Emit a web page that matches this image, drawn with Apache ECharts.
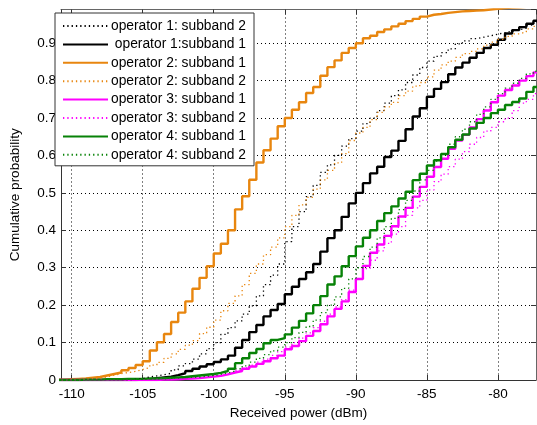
<!DOCTYPE html>
<html><head><meta charset="utf-8">
<script src="https://cdn.jsdelivr.net/npm/echarts@6/dist/echarts.min.js"></script>
<style>html,body{margin:0;padding:0;background:#fff}#c{width:537px;height:425px}</style>
</head><body><div id="c"></div>
<script>
// Step positions (dBm) – each value holds from its x to the next x
const xs = [-111,-110.5,-110,-109.5,-109,-108.5,-108,-107.5,-107,-106.5,-106,-105.5,-105,-104.5,-104,-103.5,-103,-102.5,-102,-101.5,-101,-100.5,-100,-99.5,-99,-98.5,-98,-97.5,-97,-96.5,-96,-95.5,-95,-94.5,-94,-93.5,-93,-92.5,-92,-91.5,-91,-90.5,-90,-89.5,-89,-88.5,-88,-87.5,-87,-86.5,-86,-85.5,-85,-84.5,-84,-83.5,-83,-82.5,-82,-81.5,-81,-80.5,-80,-79.5,-79,-78.5,-78,-77.5,-77,-76.5];

const legendNames = ['operator 1: subband 2',' operator 1:subband 1','operator 2: subband 1','operator 2: subband 2','operator 3: subband 1','operator 3: subband 2','operator 4: subband 1','operator 4: subband 2'];

const op1sb2 = [0,0,0,0,0,0,0,0,0,0,0.002,0.004,0.008,0.011,0.014,0.018,0.027,0.038,0.044,0.056,0.07,0.084,0.1,0.122,0.14,0.158,0.176,0.198,0.225,0.255,0.28,0.31,0.37,0.41,0.45,0.49,0.52,0.555,0.575,0.6,0.625,0.645,0.665,0.685,0.7,0.72,0.74,0.76,0.775,0.795,0.815,0.835,0.852,0.865,0.875,0.885,0.898,0.906,0.912,0.916,0.92,0.924,0.928,0.932,0.936,0.94,0.948,0.956,0.96,0.962];
const op1sb1 = [0,0,0,0,0,0,0,0,0,0,0,0.001,0.002,0.005,0.007,0.009,0.013,0.018,0.024,0.03,0.036,0.042,0.048,0.055,0.065,0.086,0.107,0.128,0.147,0.17,0.187,0.203,0.229,0.249,0.27,0.288,0.31,0.343,0.379,0.4,0.436,0.472,0.5,0.526,0.552,0.57,0.596,0.613,0.639,0.67,0.704,0.726,0.757,0.778,0.796,0.817,0.835,0.848,0.861,0.874,0.887,0.896,0.909,0.926,0.935,0.943,0.952,0.96,0.965,0.968];
const op2sb1 = [0.001,0.002,0.003,0.004,0.006,0.008,0.012,0.016,0.02,0.026,0.032,0.04,0.05,0.079,0.101,0.123,0.155,0.18,0.21,0.244,0.273,0.304,0.338,0.364,0.4,0.456,0.491,0.535,0.581,0.614,0.645,0.678,0.7,0.722,0.742,0.767,0.783,0.813,0.836,0.854,0.874,0.887,0.9,0.913,0.92,0.93,0.937,0.945,0.952,0.959,0.965,0.971,0.976,0.978,0.981,0.983,0.985,0.986,0.987,0.988,0.99,0.992,0.994,0.995,0.996,0.997,0.998,0.998,0.999,0.999];
const op2sb2 = [0,0.001,0.001,0.002,0.003,0.005,0.008,0.013,0.017,0.02,0.023,0.028,0.033,0.04,0.047,0.058,0.07,0.082,0.093,0.105,0.124,0.141,0.16,0.185,0.205,0.225,0.255,0.285,0.31,0.335,0.355,0.38,0.41,0.44,0.468,0.488,0.51,0.535,0.56,0.58,0.605,0.64,0.66,0.675,0.696,0.715,0.73,0.742,0.76,0.772,0.785,0.795,0.81,0.828,0.842,0.852,0.862,0.872,0.878,0.885,0.895,0.903,0.91,0.918,0.925,0.93,0.938,0.945,0.95,0.952];
const op3sb1 = [0,0,0,0,0,0,0,0,0,0,0,0,0,0,0.001,0.001,0.002,0.003,0.004,0.005,0.007,0.009,0.011,0.015,0.02,0.024,0.03,0.036,0.043,0.05,0.058,0.065,0.082,0.091,0.104,0.118,0.131,0.149,0.17,0.19,0.21,0.235,0.27,0.305,0.34,0.362,0.385,0.411,0.437,0.46,0.49,0.516,0.543,0.569,0.591,0.618,0.64,0.655,0.675,0.697,0.72,0.742,0.76,0.775,0.787,0.8,0.812,0.822,0.83,0.835];
const op3sb2 = [0,0,0,0,0,0,0,0,0,0,0.001,0.001,0.001,0.002,0.002,0.003,0.003,0.004,0.005,0.006,0.008,0.01,0.012,0.016,0.02,0.026,0.032,0.04,0.048,0.056,0.066,0.076,0.088,0.1,0.112,0.126,0.14,0.157,0.176,0.195,0.215,0.24,0.27,0.298,0.32,0.345,0.365,0.39,0.41,0.44,0.46,0.48,0.508,0.53,0.55,0.57,0.59,0.61,0.63,0.648,0.665,0.675,0.69,0.7,0.72,0.74,0.75,0.765,0.77,0.775];
const op4sb1 = [0,0,0,0.001,0.001,0.001,0.002,0.002,0.002,0.003,0.003,0.003,0.004,0.004,0.005,0.006,0.007,0.008,0.01,0.012,0.014,0.016,0.019,0.024,0.03,0.045,0.058,0.072,0.083,0.098,0.107,0.112,0.122,0.14,0.158,0.178,0.2,0.224,0.255,0.277,0.304,0.331,0.357,0.38,0.4,0.425,0.446,0.464,0.485,0.503,0.534,0.551,0.573,0.587,0.604,0.622,0.642,0.656,0.672,0.687,0.7,0.713,0.722,0.735,0.743,0.752,0.77,0.783,0.79,0.795];
const op4sb2 = [0,0,0,0,0,0,0.001,0.001,0.001,0.002,0.002,0.002,0.003,0.003,0.003,0.004,0.005,0.006,0.007,0.008,0.01,0.012,0.015,0.019,0.024,0.03,0.038,0.048,0.058,0.068,0.078,0.088,0.1,0.113,0.127,0.143,0.16,0.18,0.2,0.222,0.245,0.27,0.3,0.33,0.355,0.38,0.41,0.432,0.455,0.48,0.505,0.535,0.56,0.585,0.605,0.63,0.65,0.67,0.69,0.71,0.73,0.75,0.765,0.78,0.793,0.806,0.818,0.825,0.832,0.836];

const FONT = '"Liberation Sans", Arial, Helvetica, sans-serif';
const ORANGE = '#E8860F', MAGENTA = '#FF00FF', GREEN = '#078207', BLACK = '#000000';
const DOT = [1.3, 3];

const defs = [
  {vals: op1sb2, color: BLACK, dotted: true},
  {vals: op1sb1, color: BLACK, dotted: false},
  {vals: op2sb1, color: ORANGE, dotted: false},
  {vals: op2sb2, color: ORANGE, dotted: true},
  {vals: op3sb1, color: MAGENTA, dotted: false},
  {vals: op3sb2, color: MAGENTA, dotted: true},
  {vals: op4sb1, color: GREEN, dotted: false},
  {vals: op4sb2, color: GREEN, dotted: true}
];

const series = defs.map((d, k) => ({
  name: legendNames[k],
  type: 'line',
  step: 'end',
  symbol: 'none',
  showSymbol: false,
  data: xs.map((x, i) => [x, d.vals[i]]),
  color: d.color,
  lineStyle: {color: d.color, width: d.dotted ? 1.3 : 2.4, type: d.dotted ? DOT : 'solid'},
  z: d.dotted ? 3 : 2,
  silent: true
}));

const axisCol = '#333';
const gridLine = {show: true, lineStyle: {color: '#000', width: 1, type: [1, 3]}};
const tickLbl = {color: '#000', fontSize: 13.5, fontFamily: FONT};

const option = {
  animation: false,
  backgroundColor: '#fff',
  grid: {left: 52, right: 1, top: 9.5, bottom: 40, containLabel: false},
  legend: {
    data: legendNames,
    orient: 'vertical',
    left: 55, top: 13,
    padding: [6, 8, 4, 7],
    itemWidth: 45, itemHeight: 14, itemGap: 4.4,
    backgroundColor: '#fff',
    borderColor: '#333', borderWidth: 1,
    textStyle: {color: '#000', fontSize: 13.8, fontFamily: FONT, padding: [0, 0, 0, -2]},
    itemStyle: {opacity: 0},
    selectedMode: false
  },
  xAxis: [{
    type: 'value', min: -110.75, max: -77.32, splitNumber: 7, minInterval: 5, maxInterval: 5,
    axisLine: {show: true, onZero: false, lineStyle: {color: axisCol, width: 1}},
    axisTick: {show: true, inside: true, length: 5, lineStyle: {color: axisCol}},
    axisLabel: Object.assign({margin: 7, showMinLabel: false, showMaxLabel: false}, tickLbl),
    splitLine: gridLine,
    name: 'Received power (dBm)', nameLocation: 'middle', nameGap: 26,
    nameTextStyle: {color: '#000', fontSize: 13.5, fontFamily: FONT}
  }, {
    type: 'value', position: 'top', min: -110.75, max: -77.32, splitNumber: 7, minInterval: 5, maxInterval: 5,
    axisLine: {show: true, onZero: false, lineStyle: {color: '#666', width: 1}},
    axisTick: {show: true, inside: true, length: 5, lineStyle: {color: axisCol}},
    axisLabel: {show: false}, splitLine: {show: false}
  }],
  yAxis: [{
    type: 'value', min: 0, max: 0.99, interval: 0.1,
    axisLine: {show: true, onZero: false, lineStyle: {color: axisCol, width: 1}},
    axisTick: {show: true, inside: true, length: 5, lineStyle: {color: axisCol}},
    axisLabel: Object.assign({margin: 5, showMaxLabel: false}, tickLbl),
    splitLine: gridLine,
    name: 'Cumulative probability', nameLocation: 'middle', nameGap: 39, nameRotate: 90,
    nameTextStyle: {color: '#000', fontSize: 13.5, fontFamily: FONT}
  }, {
    type: 'value', position: 'right', min: 0, max: 0.99, interval: 0.1,
    axisLine: {show: true, onZero: false, lineStyle: {color: '#666', width: 1}},
    axisTick: {show: true, inside: true, length: 5, lineStyle: {color: axisCol}},
    axisLabel: {show: false}, splitLine: {show: false}
  }],
  series: series
};

const chart = echarts.init(document.getElementById('c'), null, {renderer: 'canvas'});
chart.setOption(option);
</script>
</body></html>
